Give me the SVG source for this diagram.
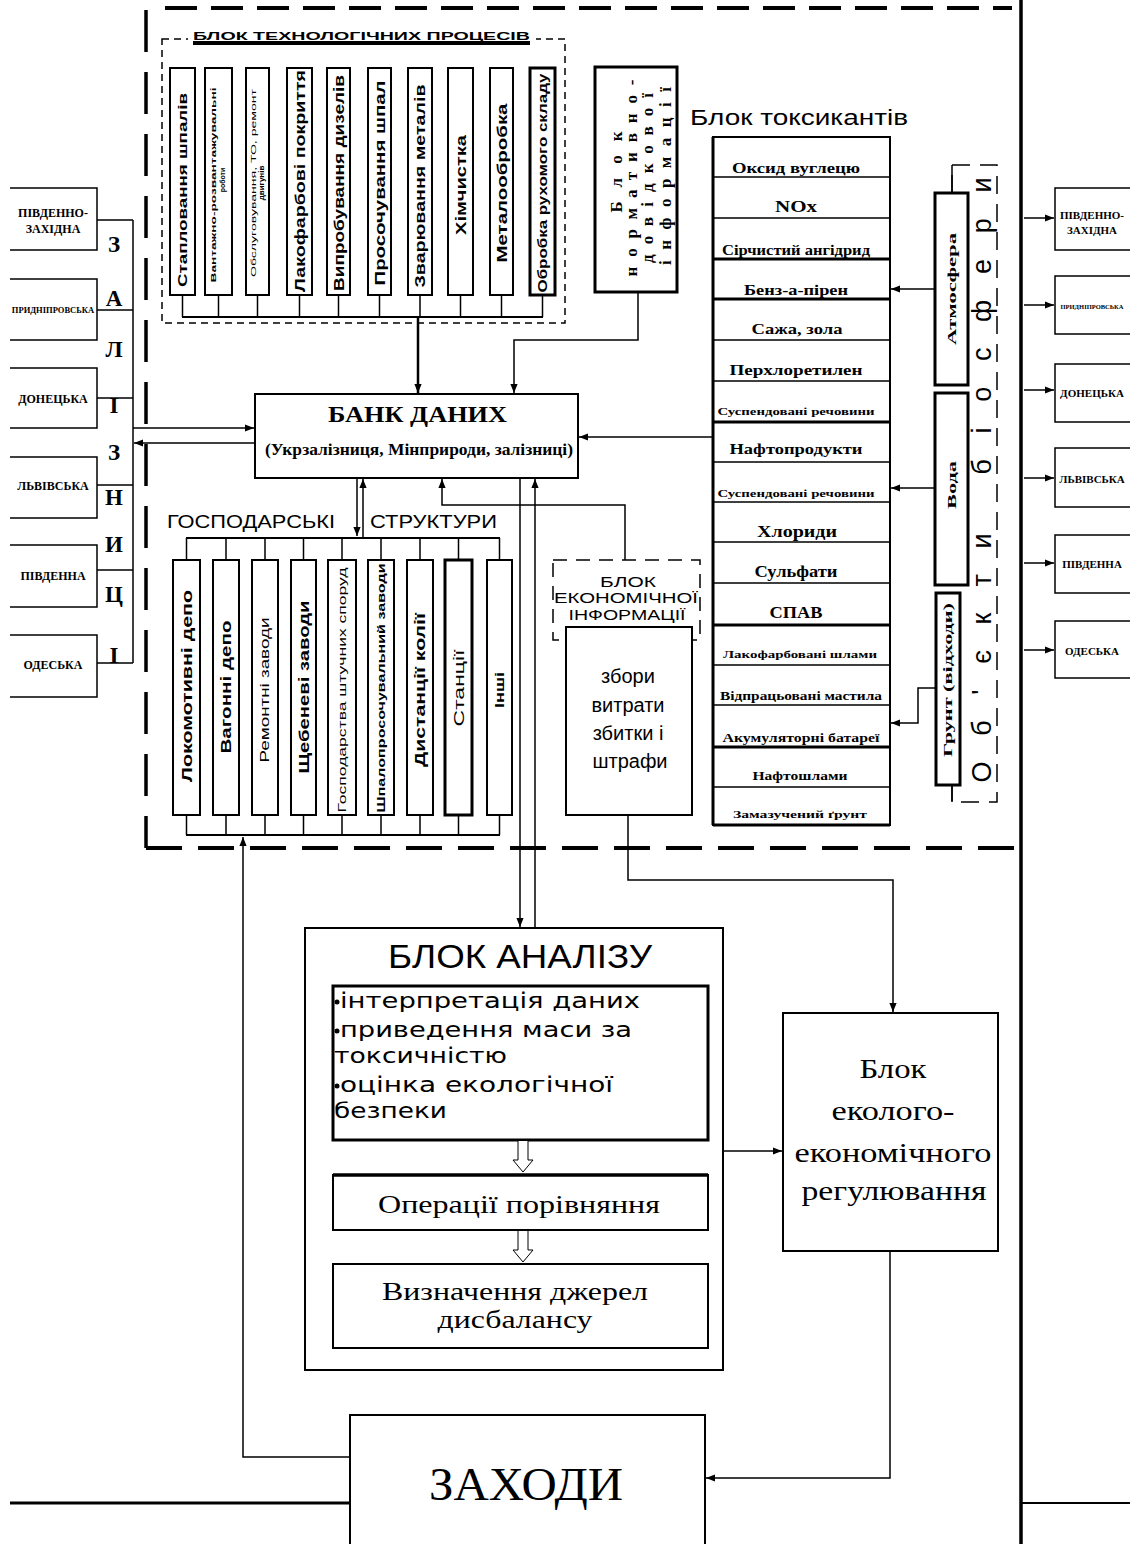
<svg xmlns="http://www.w3.org/2000/svg" width="1130" height="1544" viewBox="0 0 1130 1544">
<defs>
<marker id="ah" viewBox="0 0 10 10" refX="10" refY="5" markerWidth="10" markerHeight="9" markerUnits="userSpaceOnUse" orient="auto"><path d="M0,1 L10,5 L0,9 z" fill="#000"/></marker>
</defs>
<style>
.b{fill:#fff;stroke:#000;stroke-width:2}
.bt{fill:#fff;stroke:#000;stroke-width:3}
.ln{fill:none;stroke:#000;stroke-width:1.5}
.ar{fill:none;stroke:#000;stroke-width:1.5;marker-end:url(#ah)}
.sans{font-family:"Liberation Sans","DejaVu Sans",sans-serif}
.serif{font-family:"Liberation Serif","DejaVu Serif",serif}
.dv{font-family:"DejaVu Sans","Liberation Sans",sans-serif}
.bold{font-weight:bold}
.rot{text-anchor:middle;dominant-baseline:central}
.mid{text-anchor:middle}
</style>
<rect width="1130" height="1544" fill="#fff"/>

<g id="frame">
<line x1="165" y1="8" x2="1012" y2="8" stroke="#000" stroke-width="4" stroke-dasharray="32 14"/>
<line x1="146" y1="10" x2="146" y2="848" stroke="#000" stroke-width="3.5" stroke-dasharray="42 20"/>
<line x1="146" y1="848" x2="1020" y2="848" stroke="#000" stroke-width="4" stroke-dasharray="36 16"/>
<line x1="1021" y1="0" x2="1021" y2="1544" stroke="#000" stroke-width="3.5"/>
<line x1="10" y1="1503" x2="350" y2="1503" stroke="#000" stroke-width="3"/>
<line x1="1021" y1="1503" x2="1130" y2="1503" stroke="#000" stroke-width="2"/>
</g>

<g id="tech-block">
<rect x="162" y="39" width="403" height="284" fill="none" stroke="#000" stroke-width="1.5" stroke-dasharray="7 5"/>
<rect x="188" y="28" width="348" height="20" fill="#fff"/>
<text x="193" y="40" class="sans bold" font-size="10" textLength="337" lengthAdjust="spacingAndGlyphs">БЛОК ТЕХНОЛОГІЧНИХ ПРОЦЕСІВ</text>
<rect x="193" y="41" width="337" height="4" fill="#000"/>
</g>
<g id="tp1"><rect x="170" y="68" width="25" height="227" class="b"/><text class="sans bold rot" font-size="12" textLength="194" lengthAdjust="spacingAndGlyphs" transform="translate(182.5,190) rotate(-90)">Стапловання шпалів</text></g>
<g id="tp2"><rect x="205" y="68" width="27" height="227" class="b"/><text class="sans bold rot" font-size="7" textLength="195" lengthAdjust="spacingAndGlyphs" transform="translate(213,185) rotate(-90)">Вантажно-розвантажувальні</text><text class="sans bold rot" font-size="7" transform="translate(222,180) rotate(-90)">роботи</text></g>
<g id="tp3"><rect x="246" y="68" width="23" height="227" class="b"/><text class="sans rot" font-size="7" textLength="188" lengthAdjust="spacingAndGlyphs" transform="translate(253,183) rotate(-90)">Обслуговування, ТО, ремонт</text><text class="sans bold rot" font-size="8" transform="translate(261,183) rotate(-90)">двигунів</text></g>
<g id="tp4"><rect x="287" y="68" width="25" height="227" class="b"/><text class="sans bold rot" font-size="14" textLength="222" lengthAdjust="spacingAndGlyphs" transform="translate(299.5,181) rotate(-90)">Лакофарбові покриття</text></g>
<g id="tp5"><rect x="327" y="68" width="23" height="227" class="b"/><text class="sans bold rot" font-size="14" textLength="216" lengthAdjust="spacingAndGlyphs" transform="translate(338.5,183) rotate(-90)">Випробування дизелів</text></g>
<g id="tp6"><rect x="368" y="68" width="23" height="227" class="b"/><text class="sans bold rot" font-size="14" textLength="205" lengthAdjust="spacingAndGlyphs" transform="translate(379.5,183) rotate(-90)">Просочування шпал</text></g>
<g id="tp7"><rect x="408" y="68" width="24" height="227" class="b"/><text class="sans bold rot" font-size="14" textLength="203" lengthAdjust="spacingAndGlyphs" transform="translate(420,186) rotate(-90)">Зварювання металів</text></g>
<g id="tp8"><rect x="448" y="68" width="25" height="227" class="b"/><text class="sans bold rot" font-size="14" textLength="100" lengthAdjust="spacingAndGlyphs" transform="translate(460.5,185) rotate(-90)">Хімчистка</text></g>
<g id="tp9"><rect x="490" y="68" width="23" height="227" class="b"/><text class="sans bold rot" font-size="14" textLength="159" lengthAdjust="spacingAndGlyphs" transform="translate(501.5,183) rotate(-90)">Металообробка</text></g>
<g id="tp10"><rect x="530" y="68" width="25" height="227" class="bt"/><text class="sans bold rot" font-size="13" textLength="219" lengthAdjust="spacingAndGlyphs" transform="translate(542.5,183) rotate(-90)">Обробка рухомого складу</text></g>

<g id="normative">
<rect x="595" y="67" width="82" height="225" class="bt"/>
<text class="serif bold mid" font-size="17" textLength="81" lengthAdjust="spacing" transform="translate(622,172) rotate(-90)">Блок</text>
<text class="serif bold mid" font-size="17" textLength="197" lengthAdjust="spacing" transform="translate(637,178) rotate(-90)">нормативно-</text>
<text class="serif bold mid" font-size="17" textLength="170" lengthAdjust="spacing" transform="translate(653,178) rotate(-90)">довідкової</text>
<text class="serif bold mid" font-size="17" textLength="178" lengthAdjust="spacing" transform="translate(671,176) rotate(-90)">інформації</text>
</g>

<g id="bank">
<rect x="255" y="394" width="323" height="84" class="b"/>
<text x="417.5" y="422" class="serif bold mid" font-size="23" textLength="179" lengthAdjust="spacingAndGlyphs">БАНК ДАНИХ</text>
<text x="419" y="455" class="serif bold mid" font-size="16" textLength="308" lengthAdjust="spacingAndGlyphs">(Укрзалізниця, Мінприроди, залізниці)</text>
</g>

<g id="toxicants">
<text x="690" y="125" class="sans" font-size="22" textLength="218" lengthAdjust="spacingAndGlyphs">Блок токсикантів</text>
<rect x="713" y="137" width="177" height="688" class="b"/>
<line x1="713" y1="137" x2="713" y2="825" stroke="#000" stroke-width="3"/>
<line x1="713" y1="825" x2="890" y2="825" stroke="#000" stroke-width="3"/>
<path d="M713,177H890M713,218H890M713,340H890M713,381H890M713,462H890M713,502H890M713,542H890M713,583H890M713,665H890M713,705H890M713,787H890" stroke="#000" stroke-width="1.5"/>
<path d="M713,259H890M713,299H890M713,422H890M713,625H890M713,747H890" stroke="#000" stroke-width="3"/>
<g class="serif bold mid">
<text x="796" y="173" font-size="14" textLength="128" lengthAdjust="spacingAndGlyphs">Оксид вуглецю</text>
<text x="796" y="212" font-size="17" textLength="42" lengthAdjust="spacingAndGlyphs">NOx</text>
<text x="796" y="255" font-size="15" textLength="148" lengthAdjust="spacingAndGlyphs">Сірчистий ангідрид</text>
<text x="796" y="295" font-size="14" textLength="104" lengthAdjust="spacingAndGlyphs">Бенз-а-пірен</text>
<text x="797" y="334" font-size="15" textLength="91" lengthAdjust="spacingAndGlyphs">Сажа, зола</text>
<text x="796" y="375" font-size="15" textLength="133" lengthAdjust="spacingAndGlyphs">Перхлоретилен</text>
<text x="796" y="415" font-size="10" textLength="157" lengthAdjust="spacingAndGlyphs">Суспендовані речовини</text>
<text x="796" y="454" font-size="14" textLength="133" lengthAdjust="spacingAndGlyphs">Нафтопродукти</text>
<text x="796" y="497" font-size="10" textLength="157" lengthAdjust="spacingAndGlyphs">Суспендовані речовини</text>
<text x="797" y="537" font-size="16" textLength="80" lengthAdjust="spacingAndGlyphs">Хлориди</text>
<text x="796" y="577" font-size="16" textLength="83" lengthAdjust="spacingAndGlyphs">Сульфати</text>
<text x="796" y="618" font-size="17" textLength="53" lengthAdjust="spacingAndGlyphs">СПАВ</text>
<text x="800" y="658" font-size="10" textLength="154" lengthAdjust="spacingAndGlyphs">Лакофарбовані шлами</text>
<text x="801" y="700" font-size="12" textLength="162" lengthAdjust="spacingAndGlyphs">Відпрацьовані мастила</text>
<text x="801" y="742" font-size="12" textLength="157" lengthAdjust="spacingAndGlyphs">Акумуляторні батареї</text>
<text x="800" y="780" font-size="13" textLength="95" lengthAdjust="spacingAndGlyphs">Нафтошлами</text>
<text x="800" y="818" font-size="11" textLength="134" lengthAdjust="spacingAndGlyphs">Замазучений ґрунт</text>
</g>
</g>

<g id="biosphere">
<path d="M952,193V165H997V802H952V785" fill="none" stroke="#000" stroke-width="1.5" stroke-dasharray="18 10"/>
<line x1="952" y1="193" x2="952" y2="165" stroke="#000" stroke-width="1.5"/>
<line x1="952" y1="785" x2="952" y2="802" stroke="#000" stroke-width="1.5"/>
<text class="sans mid" font-size="27" textLength="605" lengthAdjust="spacing" transform="translate(991,480) rotate(-90)">Об'єкти біосфери</text>
</g>
<g id="atmosphere"><rect x="935" y="193" width="33" height="192" class="bt"/><text class="serif bold rot" font-size="12" textLength="112" lengthAdjust="spacingAndGlyphs" transform="translate(951.5,289) rotate(-90)">Атмосфера</text></g>
<g id="water"><rect x="935" y="393" width="33" height="192" class="bt"/><text class="serif bold rot" font-size="13" textLength="48" lengthAdjust="spacingAndGlyphs" transform="translate(951.5,485) rotate(-90)">Вода</text></g>
<g id="soil"><rect x="936" y="593" width="24" height="192" class="bt"/><text class="serif bold rot" font-size="12" textLength="154" lengthAdjust="spacingAndGlyphs" transform="translate(948,680) rotate(-90)">Грунт (відходи)</text></g>

<g id="rail-left" class="serif bold mid" font-size="12">
<path d="M10,188H97V250H10M10,279H97V340H10M10,368H97V428H10M10,457H97V518H10M10,545H97V607H10M10,635H97V697H10" fill="none" stroke="#000" stroke-width="1.5"/>
<text x="53" y="217">ПІВДЕННО-</text>
<text x="53" y="233">ЗАХІДНА</text>
<text x="53" y="313" font-size="8.5">ПРИДНІПРОВСЬКА</text>
<text x="53" y="403">ДОНЕЦЬКА</text>
<text x="53" y="490">ЛЬВІВСЬКА</text>
<text x="53" y="580">ПІВДЕННА</text>
<text x="53" y="669">ОДЕСЬКА</text>
</g>
<g id="rail-label" class="serif bold mid" font-size="23">
<text x="114" y="252">З</text><text x="114" y="306">А</text><text x="114" y="357">Л</text><text x="114" y="413">І</text><text x="114" y="460">З</text><text x="114" y="505">Н</text><text x="114" y="552">И</text><text x="114" y="602">Ц</text><text x="114" y="663">І</text>
</g>

<g id="rail-right" class="serif bold mid" font-size="11">
<path d="M1130,188H1055V250H1130M1130,276H1055V334H1130M1130,364H1055V422H1130M1130,448H1055V507H1130M1130,535H1055V593H1130M1130,621H1055V678H1130" fill="none" stroke="#000" stroke-width="1.5"/>
<text x="1092" y="219">ПІВДЕННО-</text>
<text x="1092" y="234">ЗАХІДНА</text>
<text x="1092" y="309" font-size="6.5">ПРИДНІПРОВСЬКА</text>
<text x="1092" y="397">ДОНЕЦЬКА</text>
<text x="1092" y="483">ЛЬВІВСЬКА</text>
<text x="1092" y="568">ПІВДЕННА</text>
<text x="1092" y="655">ОДЕСЬКА</text>
</g>

<g id="structures-label" class="sans" font-size="19">
<text x="167" y="528" textLength="168" lengthAdjust="spacingAndGlyphs">ГОСПОДАРСЬКІ</text>
<text x="370" y="528" textLength="127" lengthAdjust="spacingAndGlyphs">СТРУКТУРИ</text>
</g>
<g id="st1"><rect x="173" y="560" width="27" height="255" class="b"/><text class="sans bold rot" font-size="14" textLength="192" lengthAdjust="spacingAndGlyphs" transform="translate(186.5,686) rotate(-90)">Локомотивні депо</text></g>
<g id="st2"><rect x="213" y="560" width="26" height="255" class="b"/><text class="sans bold rot" font-size="14" textLength="133" lengthAdjust="spacingAndGlyphs" transform="translate(226,687) rotate(-90)">Вагонні депо</text></g>
<g id="st3"><rect x="252" y="560" width="26" height="255" class="b"/><text class="sans rot" font-size="12" textLength="145" lengthAdjust="spacingAndGlyphs" transform="translate(265,690) rotate(-90)">Ремонтні заводи</text></g>
<g id="st4"><rect x="291" y="560" width="25" height="255" class="b"/><text class="sans bold rot" font-size="14" textLength="173" lengthAdjust="spacingAndGlyphs" transform="translate(303.5,687) rotate(-90)">Щебеневі заводи</text></g>
<g id="st5"><rect x="328" y="560" width="28" height="255" class="b"/><text class="sans rot" font-size="10" textLength="245" lengthAdjust="spacingAndGlyphs" transform="translate(342,690) rotate(-90)">Господарства штучних споруд</text></g>
<g id="st6"><rect x="368" y="560" width="26" height="255" class="b"/><text class="sans bold rot" font-size="11" textLength="249" lengthAdjust="spacingAndGlyphs" transform="translate(381,688) rotate(-90)">Шпалопросочувальний заводи</text></g>
<g id="st7"><rect x="407" y="560" width="26" height="255" class="b"/><text class="sans bold rot" font-size="14" textLength="154" lengthAdjust="spacingAndGlyphs" transform="translate(420,690) rotate(-90)">Дистанції колії</text></g>
<g id="st8"><rect x="445" y="560" width="27" height="255" class="bt"/><text class="sans rot" font-size="15" textLength="77" lengthAdjust="spacingAndGlyphs" transform="translate(458.5,688) rotate(-90)">Станції</text></g>
<g id="st9"><rect x="487" y="560" width="25" height="255" class="b"/><text class="sans bold rot" font-size="13" textLength="36" lengthAdjust="spacingAndGlyphs" transform="translate(499.5,690) rotate(-90)">Інші</text></g>

<g id="econ-info">
<rect x="553" y="560" width="147" height="80" fill="none" stroke="#000" stroke-width="1.5" stroke-dasharray="14 9"/>
<g class="sans mid" font-size="15">
<text x="628" y="587" textLength="56" lengthAdjust="spacingAndGlyphs">БЛОК</text>
<text x="626" y="603" textLength="144" lengthAdjust="spacingAndGlyphs">ЕКОНОМІЧНОЇ</text>
<text x="627" y="620" textLength="117" lengthAdjust="spacingAndGlyphs">ІНФОРМАЦІЇ</text>
</g>
<rect x="566" y="627" width="126" height="188" class="b"/>
<g class="sans mid" font-size="20">
<text x="628" y="683">збори</text>
<text x="628" y="712">витрати</text>
<text x="628" y="740">збитки і</text>
<text x="630" y="768">штрафи</text>
</g>
</g>

<g id="analysis">
<rect x="305" y="928" width="418" height="442" class="b"/>
<text x="520" y="968" class="sans mid" font-size="34" textLength="264" lengthAdjust="spacingAndGlyphs">БЛОК АНАЛІЗУ</text>
<rect x="333" y="986" width="375" height="154" class="bt"/>
<g class="dv" font-size="21">
<circle cx="337" cy="1002" r="2.5"/><text x="340" y="1008" textLength="300" lengthAdjust="spacingAndGlyphs">інтерпретація даних</text>
<circle cx="337" cy="1031" r="2.5"/><text x="340" y="1037" textLength="292" lengthAdjust="spacingAndGlyphs">приведення маси за</text>
<text x="334" y="1063" textLength="173" lengthAdjust="spacingAndGlyphs">токсичністю</text>
<circle cx="337" cy="1086" r="2.5"/><text x="340" y="1092" textLength="273" lengthAdjust="spacingAndGlyphs">оцінка екологічної</text>
<text x="334" y="1118" textLength="113" lengthAdjust="spacingAndGlyphs">безпеки</text>
</g>
<rect x="333" y="1175" width="375" height="55" class="b"/>
<line x1="333" y1="1175" x2="708" y2="1175" stroke="#000" stroke-width="3.5"/>
<text x="519" y="1213" class="serif mid" font-size="26" textLength="282" lengthAdjust="spacingAndGlyphs">Операції порівняння</text>
<rect x="333" y="1264" width="375" height="84" class="b"/>
<text x="515" y="1300" class="serif mid" font-size="26" textLength="266" lengthAdjust="spacingAndGlyphs">Визначення джерел</text>
<text x="515" y="1328" class="serif mid" font-size="26" textLength="155" lengthAdjust="spacingAndGlyphs">дисбалансу</text>
</g>

<g id="eco-regulation">
<rect x="783" y="1013" width="215" height="238" class="b"/>
<g class="serif mid" font-size="27">
<text x="893" y="1078" textLength="67" lengthAdjust="spacingAndGlyphs">Блок</text>
<text x="893" y="1120" textLength="123" lengthAdjust="spacingAndGlyphs">еколого-</text>
<text x="893" y="1162" textLength="197" lengthAdjust="spacingAndGlyphs">економічного</text>
<text x="894" y="1200" textLength="185" lengthAdjust="spacingAndGlyphs">регулювання</text>
</g>
</g>

<g id="measures">
<rect x="350" y="1415" width="355" height="140" class="b"/>
<text x="526" y="1500" class="serif mid" font-size="46" textLength="194" lengthAdjust="spacingAndGlyphs">ЗАХОДИ</text>
</g>

<g id="connectors">
<path d="M182.5,295V317M218.5,295V317M257.5,295V317M299.5,295V317M338.5,295V317M379.5,295V317M420,295V317M460.5,295V317M501.5,295V317M542.5,295V317" class="ln"/>
<line x1="182" y1="317" x2="543" y2="317" stroke="#000" stroke-width="2"/>
<line x1="418" y1="317" x2="418" y2="393" class="ar" style="stroke-width:2.5"/>
<polyline points="638,292 638,340 514,340 514,393" class="ar"/>
<line x1="713" y1="437" x2="579" y2="437" class="ar"/>
<line x1="935" y1="289" x2="891" y2="289" class="ar"/>
<line x1="935" y1="488" x2="891" y2="488" class="ar"/>
<polyline points="936,688 918,688 918,723 891,723" class="ar"/>
<line x1="133" y1="220" x2="133" y2="663" class="ln"/>
<path d="M97,220H133M97,310H133M97,398H133M97,485H133M97,570H133M97,663H133" class="ln"/>
<line x1="133" y1="428" x2="254" y2="428" class="ar"/>
<line x1="255" y1="443" x2="134" y2="443" class="ar"/>
<line x1="1024" y1="218" x2="1054" y2="218" class="ar"/>
<line x1="1024" y1="305" x2="1054" y2="305" class="ar"/>
<line x1="1024" y1="390" x2="1054" y2="390" class="ar"/>
<line x1="1024" y1="478" x2="1054" y2="478" class="ar"/>
<line x1="1024" y1="563" x2="1054" y2="563" class="ar"/>
<line x1="1024" y1="650" x2="1054" y2="650" class="ar"/>
<line x1="186" y1="538" x2="500" y2="538" stroke="#000" stroke-width="2"/>
<path d="M186.5,538V560M226,538V560M265,538V560M303.5,538V560M342,538V560M381,538V560M420,538V560M458.5,538V560M499.5,538V560" class="ln"/>
<line x1="186" y1="835" x2="500" y2="835" stroke="#000" stroke-width="2"/>
<path d="M186.5,815V835M226,815V835M265,815V835M303.5,815V835M342,815V835M381,815V835M420,815V835M458.5,815V835M499.5,815V835" class="ln"/>
<line x1="357" y1="478" x2="357" y2="536" class="ar"/>
<line x1="363" y1="538" x2="363" y2="479" class="ar"/>
<polyline points="625,560 625,505 442,505 442,479" class="ar"/>
<polyline points="628,815 628,880 893,880 893,1012" class="ar"/>
<line x1="520" y1="478" x2="520" y2="927" class="ar"/>
<line x1="535" y1="928" x2="535" y2="479" class="ar"/>
<line x1="723" y1="1151" x2="782" y2="1151" class="ar"/>
<polyline points="890,1251 890,1478 706,1478" class="ar"/>
<polyline points="350,1457 243,1457 243,837" class="ar"/>
<path d="M518,1141V1160H513L523,1172L533,1160H528V1141" fill="#fff" stroke="#000" stroke-width="1"/>
<path d="M518,1231V1250H513L523,1262L533,1250H528V1231" fill="#fff" stroke="#000" stroke-width="1"/>
</g>
</svg>
